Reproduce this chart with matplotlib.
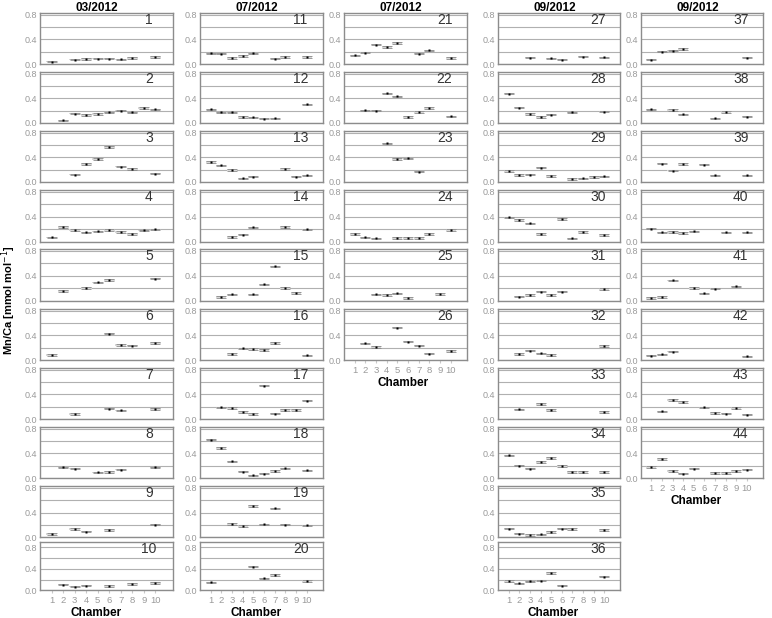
import matplotlib
matplotlib.use("Agg")
import matplotlib.pyplot as plt
import numpy as np

plt.rcParams['font.family'] = ['Liberation Sans', 'DejaVu Sans']

N = None
chambers = [1, 2, 3, 4, 5, 6, 7, 8, 9, 10]
col_titles = ["03/2012", "07/2012", "07/2012", "09/2012", "09/2012"]
xlabel = "Chamber"
ylabel = "Mn/Ca [mmol mol$^{-1}$]"

# Column 1: panels 1-10 (03/2012)
col1 = [
    [0.04, N, 0.07, 0.08, 0.087, 0.087, 0.076, 0.10, N, 0.114],
    [N, 0.043, 0.15, 0.13, 0.146, 0.173, 0.20, 0.173, 0.24, 0.22],
    [N, N, 0.12, 0.29, 0.37, 0.57, 0.25, 0.21, N, 0.135],
    [0.071, 0.236, 0.19, 0.148, 0.164, 0.186, 0.159, 0.12, 0.18, 0.197],
    [N, 0.155, N, 0.20, 0.294, 0.333, N, N, N, 0.355],
    [0.08, N, N, N, N, 0.427, 0.243, 0.232, N, 0.276],
    [N, N, 0.085, N, N, 0.17, 0.144, N, N, 0.165],
    [N, 0.176, 0.155, N, 0.096, 0.101, 0.139, N, N, 0.176],
    [0.055, N, 0.137, 0.093, N, 0.12, N, N, N, 0.203],
    [N, 0.106, 0.069, 0.0875, N, 0.081, N, 0.119, N, 0.1375],
]
# Column 2: panels 11-20 (07/2012)
col2 = [
    [0.174, 0.17, 0.10, 0.13, 0.174, N, 0.087, 0.114, N, 0.114],
    [0.22, 0.17, 0.17, 0.10, 0.09, 0.07, 0.076, N, N, 0.30],
    [0.32, 0.27, 0.195, 0.06, 0.087, N, N, 0.21, 0.087, 0.108],
    [N, N, 0.077, 0.115, 0.23, N, N, 0.236, N, 0.197],
    [N, 0.061, 0.10, N, 0.10, 0.261, 0.55, 0.20, 0.122, N],
    [N, N, 0.097, 0.19, 0.178, 0.162, 0.276, N, N, 0.076],
    [N, 0.19, 0.18, 0.117, 0.085, 0.54, 0.09, 0.149, 0.149, 0.30],
    [0.624, 0.49, 0.272, 0.107, 0.048, 0.075, 0.117, 0.16, N, 0.128],
    [N, N, 0.219, 0.186, 0.504, 0.208, 0.466, 0.203, N, 0.192],
    [0.15, N, N, N, 0.4375, 0.219, 0.281, N, N, 0.175],
]
# Column 3: panels 21-26 (07/2012)
col3 = [
    [0.14, 0.185, 0.315, 0.28, 0.34, N, 0.17, 0.22, N, 0.10],
    [N, 0.205, 0.20, 0.48, 0.43, 0.097, 0.18, 0.24, N, 0.108],
    [N, N, N, 0.627, 0.373, 0.384, 0.168, N, N, N],
    [0.12, 0.07, 0.055, N, 0.06, 0.06, 0.06, 0.12, N, 0.186],
    [N, N, 0.10, 0.09, 0.117, 0.04, N, N, 0.105, N],
    [N, 0.27, 0.21, N, 0.524, 0.297, 0.232, 0.103, N, 0.146],
]
# Column 4: panels 27-36 (09/2012)
col4 = [
    [N, N, 0.103, N, 0.093, 0.071, N, 0.12, N, 0.109],
    [0.476, 0.249, 0.146, 0.097, 0.135, N, 0.173, N, N, 0.184],
    [0.178, 0.114, 0.119, 0.232, 0.097, N, 0.049, 0.059, 0.081, 0.092],
    [0.389, 0.345, 0.296, 0.12, N, 0.362, 0.055, 0.153, N, 0.11],
    [N, 0.067, 0.089, 0.144, 0.094, 0.144, N, N, N, 0.189],
    [N, 0.096, 0.15, 0.109, 0.081, N, N, N, N, 0.226],
    [N, 0.16, N, 0.245, 0.15, N, N, N, N, 0.117],
    [0.367, 0.205, 0.157, 0.26, 0.324, 0.195, 0.103, 0.103, N, 0.103],
    [0.142, 0.06, 0.038, 0.049, 0.088, 0.142, 0.132, N, N, 0.115],
    [0.175, 0.131, 0.169, 0.181, 0.319, 0.0875, N, N, N, 0.25],
]
# Column 5: panels 37-44 (09/2012)
col5 = [
    [0.071, 0.20, 0.218, 0.245, N, N, N, N, N, 0.103],
    [0.222, N, 0.211, 0.141, N, N, 0.076, 0.178, N, 0.103],
    [N, 0.297, 0.184, 0.292, N, 0.281, 0.108, N, N, 0.108],
    [0.208, 0.148, 0.153, 0.137, 0.164, N, N, 0.148, N, 0.148],
    [0.044, 0.061, 0.328, N, 0.20, 0.117, 0.194, N, 0.228, N],
    [0.07, 0.092, 0.135, N, N, N, N, N, N, 0.06],
    [N, 0.128, 0.31, 0.277, N, 0.192, 0.101, 0.091, 0.181, 0.075],
    [0.184, 0.314, 0.119, 0.076, 0.157, N, 0.086, 0.086, 0.119, 0.14],
]
columns = [col1, col2, col3, col4, col5]
first_panel = [1, 11, 21, 27, 37]

# ---- layout (pixels) ----
W, H = 772, 618
col_left = [40, 200, 344, 498.3, 640.7]
col_right = [172.7, 322.7, 466.7, 620, 762.7]
row_top = [13, 71.7, 130.7, 190, 249, 308.7, 367.7, 426.7, 486, 542.3]
row_bot = [64, 123, 182, 241.7, 300.7, 360, 419.3, 478.3, 537.3, 590.3]
row_ymax = [0.83] * 9 + [0.89]
title_x = [97, 257, 401, 555, 698]
xlab_x = [96, 256, 403, 553, 696]

fig = plt.figure(figsize=(W / 100, H / 100), dpi=100)
grey_txt = '#9a9a9a'
err = 0.012

for ci, col in enumerate(columns):
    nrows = len(col)
    for ri, vals in enumerate(col):
        l = col_left[ci] / W
        b = 1 - row_bot[ri] / H
        w = (col_right[ci] - col_left[ci]) / W
        h = (row_bot[ri] - row_top[ri]) / H
        ax = fig.add_axes([l, b, w, h])
        x = np.array(chambers, dtype=float)
        y = np.array([np.nan if v is None else v for v in vals], dtype=float)
        m = ~np.isnan(y)
        ax.bar(x[m], 2 * err, bottom=y[m] - err, width=0.95, color='#d8d8d8',
               edgecolor='none', zorder=2)
        ax.errorbar(x[m], y[m], yerr=err, fmt='none',
                    ecolor='#8a8a8a', elinewidth=0.4, capsize=3.6, capthick=0.6,
                    zorder=3)
        ax.plot(x[m], y[m], 's', ms=2.0, color='black', mec='none', zorder=4)
        ax.set_xlim(0, 11.5)
        ax.set_ylim(0, row_ymax[ri])
        ax.set_yticks([0.0, 0.4, 0.8])
        ax.set_yticks([0.2, 0.6], minor=True)
        ax.set_yticklabels(['0.0', '0.4', '0.8'])
        ax.yaxis.grid(True, which='both', color='#b0b0b0', lw=0.8, zorder=0)
        ax.set_axisbelow(True)
        ax.tick_params(axis='y', which='both', length=0, labelsize=6.5,
                       labelcolor=grey_txt, pad=2)
        for s in ax.spines.values():
            s.set_color('#8c8c8c')
            s.set_linewidth(1.0)
        ax.set_xticks(chambers)
        if ri == nrows - 1:
            ax.set_xticklabels([str(c) for c in chambers])
            ax.tick_params(axis='x', length=2, color='#c8c8c8', labelsize=6.8,
                           labelcolor=grey_txt, pad=2)
            ybot = row_bot[ri] + 22.5
            fig.text(xlab_x[ci] / W, 1 - ybot / H, xlabel, ha='center',
                     va='center', fontsize=8.5, fontweight='bold')
        else:
            ax.tick_params(axis='x', length=0, labelbottom=False)
        ax.text(0.82, 0.86, str(first_panel[ci] + ri), transform=ax.transAxes,
                ha='center', va='center', fontsize=10, color='#333333')
    fig.text(title_x[ci] / W, 1 - 8 / H, col_titles[ci], ha='center',
             va='center', fontsize=8.5, fontweight='bold')

fig.text(9 / W, 1 - 300 / H, ylabel, rotation=90, ha='center', va='center',
         fontsize=8, fontweight='bold')

fig.savefig('out.png', dpi=100)
